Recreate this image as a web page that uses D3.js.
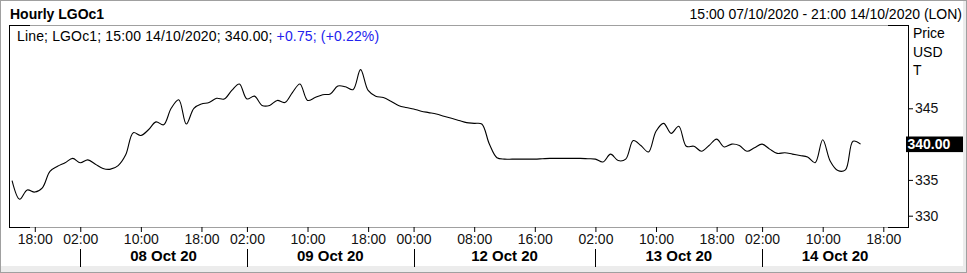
<!DOCTYPE html>
<html>
<head>
<meta charset="utf-8">
<script src="https://cdn.jsdelivr.net/npm/d3@7"></script>
<style>
  body { margin: 0; background: #fff; }
  svg { display: block; font-family: "Liberation Sans", Arial, sans-serif; }
</style>
</head>
<body>
<svg id="chart" width="967" height="273"></svg>
<script>
// trading sessions: day, first hourly bar, last hourly bar
const sessions = [
    ["07/10", 15, 23],
    ["08/10", 2, 23],
    ["09/10", 2, 23],
    ["12/10", 0, 23],
    ["13/10", 2, 23],
    ["14/10", 2, 21]
];

// hourly closes, LGOc1, from 15:00 07/10
const closes = [
    334.9, 332.3, 333.6, 333.3, 333.9, 336.2, 336.9, 337.4, 338.0,
    337.4, 337.8, 337.2, 336.6, 336.5, 337.0, 338.5, 341.6, 341.2, 342.0, 343.1,
    342.7, 345.0, 346.2, 342.8, 345.0, 345.6, 345.8, 346.4, 346.3, 347.5, 348.4,
    346.3, 346.7, 345.4, 345.4, 346.1, 345.8, 347.2, 348.4, 346.1, 346.5, 346.9,
    347.0, 348.1, 348.0, 347.6, 350.4, 347.5, 346.7, 346.5, 346.0, 345.4, 345.1,
    344.9, 344.6, 344.4, 344.2, 343.9, 343.6, 343.3, 343.0, 342.9, 342.8, 340.0,
    338.1, 337.9, 337.9, 337.9, 337.9, 337.9, 337.95, 338.0, 338.0, 338.0, 338.0,
    338.0, 337.95,
    337.9, 337.5, 338.6, 337.7, 337.9, 340.5, 339.8, 338.9, 341.8, 342.9, 341.5,
    342.5, 339.7, 339.7, 339.0, 339.8, 340.7, 339.6, 340.0, 339.8, 339.0, 339.5,
    340.0, 339.3, 338.7, 338.8, 338.6, 338.4, 338.2, 337.4, 340.6, 337.6, 336.3,
    336.4, 340.4, 340.0
];

const hourTicks = [
    "07/10 18:00", "08/10 02:00", "08/10 10:00", "08/10 18:00",
    "09/10 02:00", "09/10 10:00", "09/10 18:00", "12/10 00:00",
    "12/10 08:00", "12/10 16:00", "13/10 02:00", "13/10 10:00",
    "13/10 18:00", "14/10 02:00", "14/10 10:00", "14/10 18:00"
];
const dayLabels = [
    ["08/10", "08 Oct 20"],
    ["09/10", "09 Oct 20"],
    ["12/10", "12 Oct 20"],
    ["13/10", "13 Oct 20"],
    ["14/10", "14 Oct 20"]
];
const priceTicks = [330, 335, 345];
const lastPrice = 340.00;

// build the bar categories
const bars = [];
sessions.forEach(s => {
    for (var h = s[1]; h <= s[2]; h++) {
        bars.push(s[0] + " " + (h < 10 ? "0" + h : h) + ":00");
    }
});
const data = closes.map((v, i) => ({i: i, value: v}));

var margin = {top: 25, right: 59, bottom: 46, left: 9},
    width = 967 - margin.left - margin.right,
    height = 273 - margin.top - margin.bottom;

const svg = d3.select("#chart");

// outer frame
svg.append("rect")
    .attr("x", 0.5).attr("y", 0.5)
    .attr("width", 966).attr("height", 272)
    .attr("fill", "#fff")
    .attr("stroke", "#a0a0a0");
svg.append("rect")
    .attr("x", 1).attr("y", 266)
    .attr("width", 965).attr("height", 6)
    .attr("fill", "#ececec");
svg.append("rect")
    .attr("x", 963).attr("y", 1)
    .attr("width", 3).attr("height", 271)
    .attr("fill", "#ececec");

svg.append("text")
    .attr("x", 10).attr("y", 19)
    .attr("font-size", "14px")
    .attr("font-weight", "bold")
    .text("Hourly LGOc1");
svg.append("text")
    .attr("x", 962).attr("y", 19)
    .attr("text-anchor", "end")
    .attr("font-size", "14px")
    .text("15:00 07/10/2020 - 21:00 14/10/2020 (LON)");

const g = svg.append("g")
    .attr("transform", "translate(" + margin.left + "," + margin.top + ")");

const x = d3.scaleLinear()
    .domain([-0.405, 118.26])
    .range([0, width]);

const y = d3.scaleLinear()
    .domain([330, 345])
    .range([190.7, 83.3]);

// plot frame: grey with black corners
const gray = "#a0a0a0";
g.append("line").attr("x1", 0).attr("x2", width).attr("y1", 0.5).attr("y2", 0.5).attr("stroke", gray);
g.append("line").attr("x1", 0).attr("x2", width).attr("y1", height + 0.5).attr("y2", height + 0.5).attr("stroke", gray);
[[0, 21], [width - 20, width]].forEach(p => {
    g.append("line").attr("x1", p[0]).attr("x2", p[1]).attr("y1", 0.5).attr("y2", 0.5).attr("stroke", "#000");
    g.append("line").attr("x1", p[0]).attr("x2", p[1]).attr("y1", height + 0.5).attr("y2", height + 0.5).attr("stroke", "#000");
});
g.append("line").attr("x1", 0.5).attr("x2", 0.5).attr("y1", 0).attr("y2", height + 1).attr("stroke", "#000");

// legend
const legend = g.append("text")
    .attr("x", 8).attr("y", 15.5)
    .attr("font-size", "14px")
    .attr("letter-spacing", "0.15px");
legend.append("tspan").text("Line; LGOc1; 15:00 14/10/2020; " + lastPrice.toFixed(2) + "; ");
legend.append("tspan").attr("fill", "#2222ee").text("+0.75; (+0.22%)");

// price line
g.append("clipPath").attr("id", "clip")
    .append("rect").attr("width", width).attr("height", height);
g.append("path")
    .datum(data)
    .attr("clip-path", "url(#clip)")
    .attr("fill", "none")
    .attr("stroke", "#000")
    .attr("stroke-width", 1.1)
    .attr("d", d3.line()
        .curve(d3.curveCatmullRom.alpha(0.5))
        .x(function(d) { return x(d.i); })
        .y(function(d) { return y(d.value); })
    );

// x axis: hours
const xAxis = g.append("g")
    .attr("transform", "translate(0," + height + ")")
    .call(d3.axisBottom(x)
        .tickValues(hourTicks.map(t => bars.indexOf(t)))
        .tickFormat(i => bars[i].split(" ")[1])
        .tickSize(5)
    );
xAxis.select(".domain").remove();
xAxis.selectAll("text")
    .attr("dy", null)
    .attr("y", 16.5)
    .attr("font-size", "14px")
    .attr("font-family", "Liberation Sans, Arial, sans-serif")
    .attr("fill", "#111");

// day separators and labels
const dayStarts = dayLabels.map(d => bars.findIndex(b => b.startsWith(d[0])));
const sepX = dayStarts.map(i => x(i));
g.selectAll("line.sep")
    .data(sepX)
    .enter().append("line")
    .attr("class", "sep")
    .attr("x1", d => Math.round(d) + 0.5).attr("x2", d => Math.round(d) + 0.5)
    .attr("y1", height + 22).attr("y2", height + 40)
    .attr("stroke", "#000");
g.selectAll("text.day")
    .data(dayLabels)
    .enter().append("text")
    .attr("class", "day")
    .attr("x", (d, k) => ((sepX[k] + (k + 1 < sepX.length ? sepX[k + 1] : width)) / 2))
    .attr("y", height + 34)
    .attr("text-anchor", "middle")
    .attr("font-size", "15px")
    .attr("font-weight", "bold")
    .text(d => d[1]);

// y axis
const yAxis = g.append("g")
    .attr("transform", "translate(" + width + ",0)")
    .call(d3.axisRight(y)
        .tickValues(priceTicks)
        .tickFormat(d3.format("d"))
        .tickSize(5)
        .tickSizeOuter(0)
    );
yAxis.select(".domain").attr("d", "M0.5,0V" + (height + 1));
yAxis.selectAll("text")
    .attr("x", 7)
    .attr("font-size", "14px")
    .attr("font-family", "Liberation Sans, Arial, sans-serif")
    .attr("fill", "#111");

["Price", "USD", "T"].forEach((t, k) => {
    g.append("text")
        .attr("x", width + 5).attr("y", 13.3 + k * 18.3)
        .attr("font-size", "14px")
        .text(t);
});

// last price marker
g.append("rect")
    .attr("x", width - 2).attr("y", y(lastPrice) - 7.6)
    .attr("width", 57).attr("height", 15.6)
    .attr("fill", "#000");
g.append("text")
    .attr("x", width - 0.5).attr("y", y(lastPrice) + 5)
    .attr("font-size", "14px")
    .attr("font-weight", "bold")
    .attr("fill", "#fff")
    .text(lastPrice.toFixed(2));
</script>
</body>
</html>
